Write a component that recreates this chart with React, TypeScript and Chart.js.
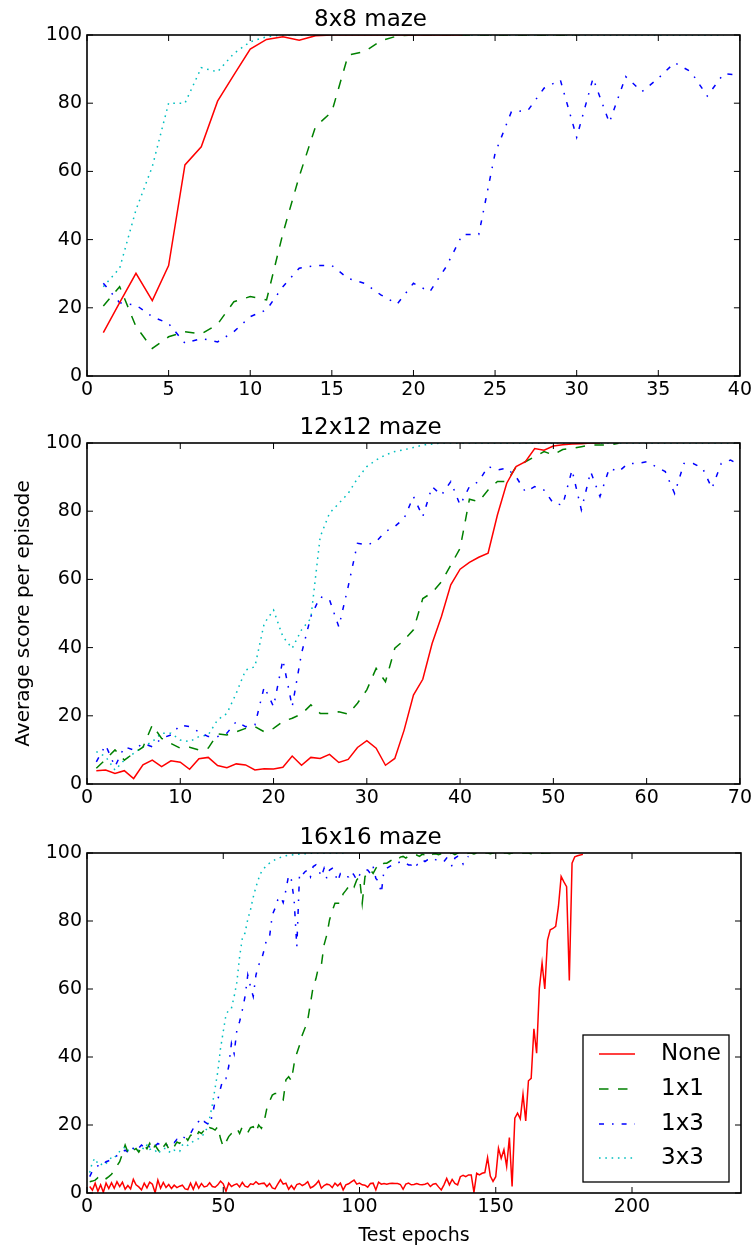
import React, { useEffect, useRef } from "react";
import { Chart, registerables } from "chart.js";

Chart.register(...registerables);

const FONT = "'DejaVu Sans', 'Liberation Sans', sans-serif";

// ---- legend / series styling ----
const seriesNames = ["None", "1x1", "1x3", "3x3"];
const seriesColors = ["#ff0000", "#008000", "#0000ff", "#00bfbf"];
const seriesDashes: number[][] = [[], [9.5, 9.5], [5, 8, 1.6, 8], [1.6, 4.7]];

// ---- titles / axis labels ----
const panelTitles = ["8x8 maze", "12x12 maze", "16x16 maze"];
const yAxisLabel = "Average score per episode";
const xAxisLabel = "Test epochs";
const panelXMax = [40, 70, 240];
const panelXStep = [5, 10, 50];
const yTickStep = 20;

// ---- 8x8 maze (epoch 1..n) ----
const m8None = [12.7, 21.5, 30.1, 22.1, 32.4, 61.9, 67.2, 80.6, 88.3, 95.9, 98.7, 99.5, 98.5, 99.8, 100, 100, 100, 100, 100, 100, 100, 100, 100];
const m8OneByOne = [20.5, 26.2, 14.5, 8.1, 11.5, 13.0, 12.3, 15.2, 21.8, 23.3, 22.3, 41.8, 58.5, 73.1, 77.5, 94.1, 95.1, 98.3, 99.7, 100, 100, 100, 100, 100, 100, 100, 100, 100, 100, 100];
const m8OneByThree = [27.2, 21.5, 20.8, 17.4, 15.4, 9.6, 11.0, 10.0, 13.0, 17.4, 19.4, 26.2, 31.6, 32.4, 32.4, 28.6, 27.2, 23.8, 21.1, 27.2, 24.7, 32.0, 41.5, 41.5, 65.3, 77.5, 77.8, 84.4, 86.8, 70.0, 87.3, 74.3, 87.8, 83.4, 87.3, 91.9, 89.2, 82.1, 88.6, 88.3];
const m8ThreeByThree = [26.2, 31.6, 48.7, 61.4, 80.0, 80.0, 90.4, 89.2, 94.6, 98.0, 99.5, 100, 100, 100, 100, 100, 100, 100, 100, 100, 100, 100, 100, 100, 100, 100, 100, 100, 100, 100, 100, 100, 100, 100, 100, 100, 100, 100, 100];

// ---- 12x12 maze ----
const m12None = [3.9, 4.1, 3.1, 3.9, 1.6, 5.6, 7.0, 5.1, 6.8, 6.4, 4.3, 7.4, 7.8, 5.4, 4.8, 5.9, 5.6, 4.1, 4.5, 4.4, 4.9, 8.2, 5.5, 7.8, 7.5, 8.7, 6.3, 7.2, 10.7, 12.7, 10.5, 5.5, 7.5, 15.8, 26.1, 30.7, 41.2, 49.1, 58.4, 63.0, 65.0, 66.5, 67.7, 78.9, 88.2, 93.1, 94.5, 98.4, 97.9, 99.1, 99.5, 99.7, 99.8, 100, 100];
const m12OneByOne = [4.6, 7.2, 10.0, 7.0, 9.0, 10.8, 17.3, 13.4, 11.9, 10.5, 10.8, 10.0, 10.5, 14.7, 14.4, 15.3, 16.3, 16.8, 15.3, 16.3, 18.3, 19.3, 20.5, 23.2, 20.7, 20.7, 21.2, 20.5, 23.7, 27.6, 33.9, 30.0, 39.8, 42.2, 45.2, 54.4, 56.1, 59.3, 64.2, 69.1, 83.5, 82.8, 86.2, 88.7, 88.7, 93.0, 94.5, 96.0, 97.5, 96.5, 98.1, 98.4, 98.9, 99.4, 99.4, 99.4, 99.9];
const m12OneByThree = [6.5, 11.4, 5.1, 10.9, 10.0, 11.9, 10.9, 13.4, 14.4, 17.3, 16.8, 15.3, 13.9, 13.9, 14.9, 18.3, 16.8, 17.3, 28.5, 22.7, 36.4, 22.7, 38.3, 49.1, 54.9, 54.0, 46.1, 57.9, 70.6, 70.1, 71.1, 74.0, 75.5, 77.9, 84.3, 78.4, 87.2, 84.7, 88.7, 81.8, 87.2, 88.7, 93.1, 92.1, 92.6, 90.1, 85.7, 87.2, 86.2, 82.3, 81.8, 92.1, 80.4, 91.6, 84.3, 92.6, 91.6, 94.0, 94.0, 94.5, 93.1, 91.6, 85.2, 94.0, 94.0, 92.6, 86.7, 94.0, 95.0, 93.5];
const m12ThreeByThree = [9.5, 8.0, 4.1, 7.0, 9.0, 10.9, 12.4, 14.9, 14.9, 12.9, 12.4, 13.9, 14.4, 18.8, 20.7, 26.6, 33.4, 34.4, 47.1, 51.0, 43.2, 39.8, 45.2, 48.6, 72.5, 79.4, 82.3, 85.2, 89.6, 93.1, 95.0, 96.5, 97.5, 98.0, 98.7, 99.4, 99.7, 100, 100, 100, 100, 100, 100, 100, 100, 100, 100, 100, 100, 100, 100, 100, 100, 100, 100, 100, 100, 100, 100, 100, 100, 100, 100, 100, 100, 100, 100, 100, 100, 100];

// ---- 16x16 maze ----
const m16None = [
  1.9, 0.8, 2.9, 0.5, 2.4, 0.2, 2.9, 1.3, 3.0, 1.4,
  3.3, 1.9, 3.2, 1.1, 2.2, 1.2, 4.0, 2.4, 1.8, 0.9,
  2.9, 1.5, 3.2, 2.6, 0.1, 3.8, 1.4, 3.1, 1.6, 2.5,
  1.3, 2.3, 1.6, 2.0, 2.3, 1.2, 1.0, 2.9, 1.1, 3.1,
  1.4, 2.8, 1.8, 2.0, 3.0, 1.9, 1.7, 2.4, 3.5, 2.7,
  0.5, 2.9, 1.9, 2.4, 2.7, 1.8, 3.1, 2.0, 1.7, 2.7,
  2.5, 3.3, 2.6, 2.8, 2.9, 1.9, 2.8, 1.5, 1.2, 2.6,
  3.9, 2.6, 2.9, 1.1, 2.2, 1.1, 2.5, 2.8, 2.2, 2.6,
  3.3, 1.5, 1.9, 2.6, 3.6, 1.4, 2.2, 2.6, 2.4, 1.6,
  2.9, 2.1, 2.9, 0.9, 2.4, 2.7, 3.3, 3.8, 2.6, 2.9,
  2.4, 2.3, 1.7, 2.8, 2.9, 0.9, 3.2, 2.6, 2.8, 2.6,
  2.8, 2.9, 2.8, 2.8, 2.5, 1.1, 2.6, 2.9, 2.4, 2.5,
  2.8, 2.5, 2.4, 2.6, 2.9, 1.9, 2.6, 2.8, 1.8, 0.9,
  2.4, 4.3, 2.4, 4.0, 2.8, 2.4, 4.8, 5.2, 4.8, 5.3,
  5.3, 0.2, 5.8, 5.3, 5.8, 6.0, 10.4, 5.0, 3.4, 4.8,
  13.2, 10.2, 12.7, 7.8, 16.3, 1.9, 22.0, 23.5, 21.8, 29.0,
  21.2, 33.0, 33.7, 48.3, 41.1, 60.2, 67.6, 60.0, 74.4, 77.4,
  77.8, 78.4, 84.2, 93.1, 91.5, 90.1, 62.5, 97.0, 98.9, 99.2,
  99.4, 99.6,
];
const m16OneByOne = [
  3.3, 3.5, 3.8, 4.5, 4.0, 4.8, 4.2, 4.8, 5.5, 6.8,
  8.0, 9.2, 11.5, 14.1, 12.0, 13.1, 12.5, 13.1, 12.0, 13.5,
  14.1, 13.0, 14.6, 12.5, 14.0, 12.8, 11.7, 13.5, 14.6, 13.0,
  14.2, 13.6, 15.0, 14.6, 15.5, 16.6, 15.5, 17.0, 17.0, 16.2,
  18.0, 17.5, 18.5, 17.8, 19.2, 19.0, 18.5, 19.5, 16.0, 13.6,
  15.0, 16.6, 17.5, 18.0, 19.0, 17.5, 19.5, 18.5, 17.8, 19.2,
  19.5, 17.8, 20.0, 19.0, 21.0, 24.9, 27.0, 28.8, 29.3, 29.3,
  28.0, 27.4, 33.3, 34.2, 33.0, 38.0, 41.1, 43.5, 46.5, 48.5,
  50.9, 55.8, 60.7, 63.0, 66.6, 67.0, 73.0, 75.9, 80.3, 83.0,
  85.2, 85.2, 85.2, 88.0, 89.0, 90.1, 91.0, 90.0, 92.1, 93.0,
  85.2, 93.0, 94.5, 95.0, 94.0, 95.5, 96.5, 96.0, 97.0, 97.0,
  97.5, 98.0, 98.5, 98.0, 98.8, 99.0, 98.5, 99.2, 99.0, 99.4,
  99.4, 99.0, 99.6, 99.5, 99.7, 99.0, 99.7, 99.8, 99.5, 99.8,
  100, 99.6, 99.8, 100, 99.5, 100, 99.8, 100, 99.6, 100,
  100, 99.7, 100, 100, 99.6, 100, 100, 99.8, 100, 100,
  99.7, 100, 100, 100, 99.8, 100, 100, 100, 99.7, 100,
  100, 100, 99.8, 100, 100, 100, 99.9, 100, 100, 100,
  100,
];
const m16OneByThree = [
  4.8, 6.5, 7.3, 8.0, 7.7, 8.5, 9.2, 9.5, 9.8, 10.2,
  11.0, 11.7, 12.0, 12.6, 12.0, 13.5, 13.1, 14.0, 13.2, 14.1,
  13.5, 14.3, 13.6, 14.5, 13.8, 14.6, 14.1, 14.6, 14.0, 14.6,
  15.2, 14.8, 15.8, 15.6, 16.6, 16.2, 17.0, 17.5, 19.0, 20.5,
  21.0, 20.0, 21.0, 20.5, 20.0, 22.9, 26.9, 27.4, 30.8, 33.7,
  33.7, 37.2, 44.0, 41.0, 48.0, 50.4, 53.8, 57.8, 64.1, 60.7,
  57.8, 64.1, 67.1, 68.5, 71.5, 74.9, 75.4, 81.8, 83.7, 86.2,
  87.2, 85.4, 89.1, 93.5, 92.1, 86.2, 72.5, 94.0, 93.5, 94.5,
  95.0, 93.0, 96.0, 96.5, 95.0, 93.0, 95.5, 92.5, 95.0, 95.5,
  94.0, 91.6, 94.0, 94.0, 93.0, 93.0, 94.5, 93.5, 92.0, 93.5,
  94.5, 95.0, 95.0, 94.0, 96.0, 92.5, 91.6, 88.2, 95.0, 95.5,
  96.0, 96.5, 96.5, 97.0, 97.5, 97.5, 97.0, 96.5, 96.5, 97.5,
  96.5, 97.0, 98.0, 97.5, 98.0, 98.0, 98.5, 98.0, 98.0, 98.0,
  97.5, 98.5, 98.0, 96.0, 98.5, 99.0, 98.5, 96.8, 98.5, 99.0,
];
const m16ThreeByThree = [
  6.0, 9.2, 10.2, 8.5, 8.2, 9.0, 8.7, 9.5, 10.5, 10.2,
  11.5, 12.2, 12.8, 13.6, 12.5, 13.3, 13.1, 12.4, 12.6, 13.5,
  12.8, 14.1, 12.8, 13.0, 12.6, 11.5, 12.4, 13.1, 13.1, 12.2,
  11.8, 12.6, 12.2, 12.2, 14.1, 14.6, 14.0, 14.6, 15.2, 15.6,
  16.0, 16.6, 17.5, 19.0, 22.0, 26.0, 30.8, 35.7, 42.5, 47.5,
  52.4, 53.8, 54.3, 57.8, 62.0, 69.5, 74.9, 76.5, 80.5, 83.3,
  87.0, 90.0, 92.5, 94.5, 95.5, 96.5, 97.0, 97.5, 98.0, 98.3,
  98.7, 99.0, 99.2, 99.3, 99.4, 99.5, 99.6, 99.7, 99.7, 99.8,
  99.8, 99.9, 99.9, 100, 100, 100, 100, 100, 100, 100,
  100, 100, 100, 100, 100,
];

const panelSeries = [
  [m8None, m8OneByOne, m8OneByThree, m8ThreeByThree],
  [m12None, m12OneByOne, m12OneByThree, m12ThreeByThree],
  [m16None, m16OneByOne, m16OneByThree, m16ThreeByThree],
];

// ---- layout (page pixels) ----
const PAGE_W = 755;
const PAGE_H = 1247;
const panelTop = [0, 405, 815];
const panelHeight = [405, 410, 432];
const panelAreaTop = [35, 38, 38];
const panelXAxisH = [29, 31, 54];
const AXIS_LEFT = 87;
const RIGHT_PAD = 14;

const framePlugin = {
  id: "mplFrame",
  afterDatasetsDraw(chart: any) {
    const { ctx, chartArea } = chart;
    const { left, right, top, bottom } = chartArea;
    const xs = chart.scales.x;
    const ys = chart.scales.y;
    const L = 6;
    ctx.save();
    ctx.strokeStyle = "#000";
    ctx.lineWidth = 1;
    ctx.setLineDash([]);
    ctx.beginPath();
    xs.ticks.forEach((t: any) => {
      const px = xs.getPixelForValue(t.value);
      ctx.moveTo(px, bottom);
      ctx.lineTo(px, bottom - L);
      ctx.moveTo(px, top);
      ctx.lineTo(px, top + L);
    });
    ys.ticks.forEach((t: any) => {
      const py = ys.getPixelForValue(t.value);
      ctx.moveTo(left, py);
      ctx.lineTo(left + L, py);
      ctx.moveTo(right, py);
      ctx.lineTo(right - L, py);
    });
    ctx.stroke();
    ctx.lineWidth = 1.6;
    ctx.strokeRect(left, top, right - left, bottom - top);
    ctx.restore();
  },
};

const legendPlugin = {
  id: "mplLegend",
  afterDraw(chart: any) {
    const { ctx } = chart;
    const bx = 583, by = 220, bw = 146, bh = 147;
    ctx.save();
    ctx.fillStyle = "#fff";
    ctx.fillRect(bx, by, bw, bh);
    ctx.strokeStyle = "#000";
    ctx.lineWidth = 1.3;
    ctx.setLineDash([]);
    ctx.strokeRect(bx, by, bw, bh);
    const rows = [239, 274, 309, 343];
    ctx.font = `23px ${FONT}`;
    ctx.textBaseline = "middle";
    ctx.textAlign = "left";
    seriesNames.forEach((name, i) => {
      ctx.strokeStyle = seriesColors[i];
      ctx.lineWidth = 1.5;
      ctx.setLineDash(seriesDashes[i]);
      ctx.beginPath();
      ctx.moveTo(599, rows[i]);
      ctx.lineTo(635, rows[i]);
      ctx.stroke();
      ctx.setLineDash([]);
      ctx.fillStyle = "#000";
      ctx.fillText(name, 661, rows[i]);
    });
    ctx.restore();
  },
};

function buildConfig(p: number): any {
  const titleLine = 23 * 1.2;
  const titlePadBottom = 1;
  const titlePadTop = panelAreaTop[p] - titleLine - titlePadBottom;
  const datasets = panelSeries[p].map((vals, i) => ({
    label: seriesNames[i],
    data: vals.map((v, j) => ({ x: j + 1, y: v })),
    borderColor: seriesColors[i],
    backgroundColor: seriesColors[i],
    borderWidth: 1.5,
    borderDash: seriesDashes[i],
    pointRadius: 0,
    tension: 0,
    fill: false,
  }));
  const tickFont = { family: FONT, size: 19 };
  const plugins: any[] = [framePlugin];
  if (p === 2) plugins.push(legendPlugin);
  return {
    type: "line",
    data: { datasets },
    plugins,
    options: {
      animation: false,
      responsive: false,
      devicePixelRatio: 1,
      layout: { padding: { left: 0, right: RIGHT_PAD, top: 0, bottom: 0 } },
      plugins: {
        legend: { display: false },
        tooltip: { enabled: false },
        title: {
          display: true,
          text: panelTitles[p],
          color: "#000",
          font: { family: FONT, size: 23, weight: "normal" },
          padding: { top: titlePadTop, bottom: titlePadBottom },
        },
      },
      scales: {
        x: {
          type: "linear",
          min: 0,
          max: panelXMax[p],
          grid: { display: false, drawTicks: false, tickLength: 0 },
          border: { display: false },
          ticks: {
            stepSize: panelXStep[p],
            includeBounds: false,
            autoSkip: false,
            maxRotation: 0,
            color: "#000",
            font: tickFont,
            padding: 3,
          },
          title: {
            display: p === 2,
            text: xAxisLabel,
            color: "#000",
            font: { family: FONT, size: 19 },
            padding: { top: 0, bottom: 0 },
          },
          afterFit: (s: any) => {
            s.height = panelXAxisH[p];
          },
        },
        y: {
          min: 0,
          max: 100,
          grid: { display: false, drawTicks: false, tickLength: 0 },
          border: { display: false },
          ticks: {
            stepSize: yTickStep,
            color: "#000",
            font: tickFont,
            padding: 5,
          },
          title: {
            display: p === 1,
            text: yAxisLabel,
            color: "#000",
            font: { family: FONT, size: 20 },
            padding: { top: 12, bottom: 0 },
          },
          afterFit: (s: any) => {
            s.width = AXIS_LEFT;
          },
        },
      },
    },
  };
}

function Panel({ index }: { index: number }) {
  const ref = useRef<HTMLCanvasElement | null>(null);
  useEffect(() => {
    if (!ref.current) return;
    const chart = new Chart(ref.current, buildConfig(index));
    return () => chart.destroy();
  }, [index]);
  return (
    <canvas
      ref={ref}
      width={PAGE_W}
      height={panelHeight[index]}
      style={{
        position: "absolute",
        left: 0,
        top: panelTop[index],
        width: PAGE_W,
        height: panelHeight[index],
        display: "block",
      }}
    />
  );
}

export default function App() {
  return (
    <div
      style={{
        position: "absolute",
        left: 0,
        top: 0,
        width: PAGE_W,
        height: PAGE_H,
        background: "#fff",
        overflow: "hidden",
      }}
    >
      <Panel index={0} />
      <Panel index={1} />
      <Panel index={2} />
    </div>
  );
}
